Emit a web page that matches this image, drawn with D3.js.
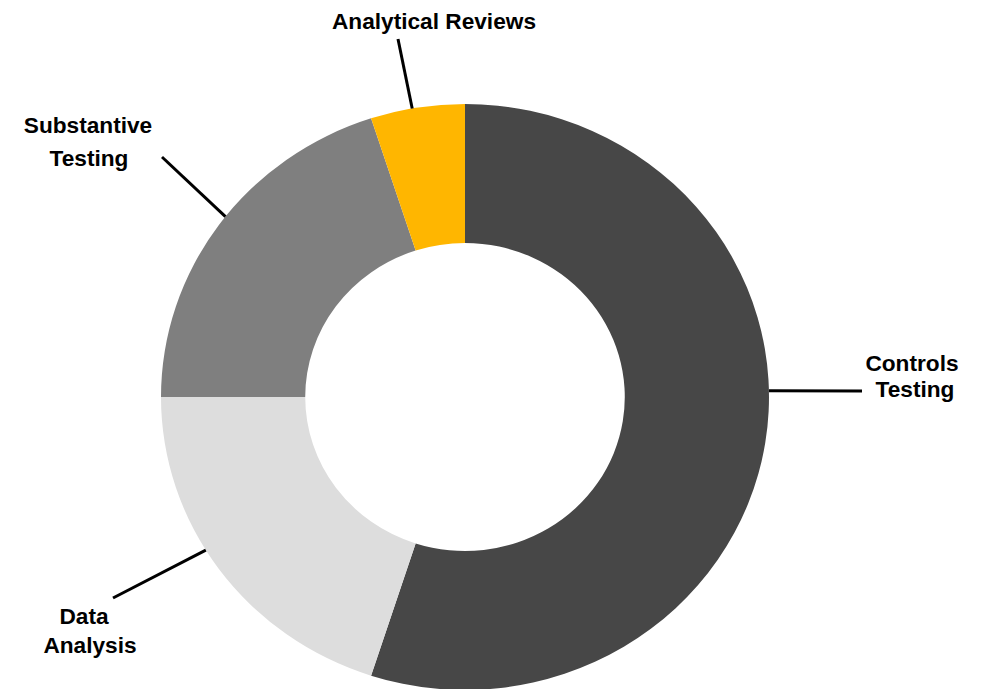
<!DOCTYPE html>
<html>
<head>
<meta charset="utf-8">
<script src="https://cdn.jsdelivr.net/npm/d3@7/dist/d3.min.js"></script>
<style>
  html, body { margin: 0; padding: 0; background: #ffffff; }
  svg { display: block; }
  text { font-family: "Liberation Sans", Arial, sans-serif; font-weight: bold; fill: #000; }
</style>
</head>
<body>
<svg id="chart" width="982" height="689"></svg>
<script>
// Share of audit work by procedure type (percent), clockwise from 12 o'clock
const categories = ["Controls Testing", "Data Analysis", "Substantive Testing", "Analytical Reviews"];
const shares = [55, 20, 20, 5];
const colors = ["#474747", "#DDDDDD", "#7F7F7F", "#FFB600"];

// Label text lines
const labelLines = [["Controls", "Testing"], ["Data", "Analysis"], ["Substantive", "Testing"], ["Analytical Reviews"]];

// Label placement: per-line centre/baseline, leader start point and the angle (deg) where the leader meets the ring
const labelLayout = [
  { lines: [[912, 371], [915, 397]], from: [862, 391], angle: 88.8 },
  { lines: [[84, 624], [90, 653]], from: [113, 598], angle: 238.5 },
  { lines: [[88, 133], [89, 166]], from: [162, 157], angle: 308 },
  { lines: [[434, 29]], from: [398, 39], angle: 350 }
];

const W = 982, H = 689;
const cx = 465, cy = 397;
const rOuter = 293, rInner = 154;
const sx = 304 / 293; // ring is slightly wider than tall

const svg = d3.select("#chart");

const pie = d3.pie().sort(null).value(d => d)(shares);
const arc = d3.arc().innerRadius(rInner).outerRadius(rOuter);

const ring = svg.append("g").attr("transform", `translate(${cx},${cy}) scale(${sx},1)`);
ring.selectAll("path")
  .data(pie)
  .join("path")
  .attr("d", arc)
  .attr("fill", (d, i) => colors[i]);

// Leader lines from each label to the outer edge of the ring
const edge = a => {
  const r = a * Math.PI / 180;
  return [cx + rOuter * sx * Math.sin(r), cy - rOuter * Math.cos(r)];
};
svg.append("g").selectAll("line")
  .data(labelLayout)
  .join("line")
  .attr("x1", d => d.from[0])
  .attr("y1", d => d.from[1])
  .attr("x2", d => edge(d.angle)[0])
  .attr("y2", d => edge(d.angle)[1])
  .attr("stroke", "#000")
  .attr("stroke-width", 3);

// Category labels
const labels = svg.append("g").attr("font-size", "22.67px").attr("text-anchor", "middle");
labelLines.forEach((lines, i) => {
  const t = labels.append("text").attr("data-category", categories[i]);
  lines.forEach((s, j) => {
    const p = labelLayout[i].lines[j];
    t.append("tspan").attr("x", p[0]).attr("y", p[1]).text(s);
  });
});
</script>
</body>
</html>
